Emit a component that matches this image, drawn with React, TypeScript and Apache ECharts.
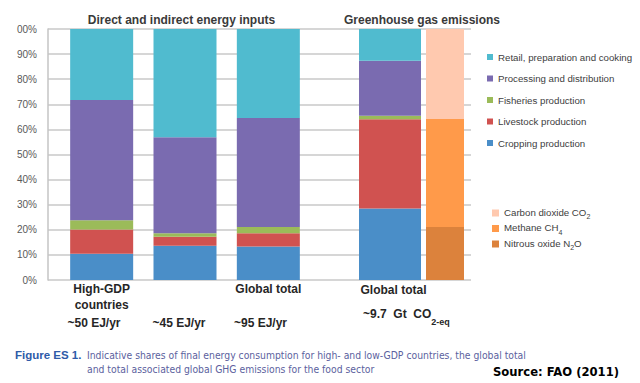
import React, { useEffect, useRef } from "react";
import * as echarts from "echarts";

const energyCategories = ["High-GDP\ncountries", "Low-GDP\ncountries", "Global total"];
const energyTotals = ["~50 EJ/yr", "~45 EJ/yr", "~95 EJ/yr"];
const croppingEnergy = [10.5, 13.6, 13.3];
const livestockEnergy = [9.6, 3.6, 5.3];
const fisheriesEnergy = [3.7, 1.4, 2.5];
const processingEnergy = [47.9, 38.3, 43.4];
const retailEnergy = [28.3, 43.1, 35.5];

const ghgCategories = ["Global total"];
const croppingGhg = [28.5];
const livestockGhg = [35.5];
const fisheriesGhg = [1.4];
const processingGhg = [22.0];
const retailGhg = [12.6];

const gasCategories = [""];
const n2oGhg = [21.1];
const ch4Ghg = [43.0];
const co2Ghg = [35.9];

const sectorNames = [
  "Cropping production",
  "Livestock production",
  "Fisheries production",
  "Processing and distribution",
  "Retail, preparation and cooking",
];
const gasNames = ["Nitrous oxide N2O", "Methane CH4", "Carbon dioxide CO2"];
const gasLegendText: Record<string, string> = {
  "Carbon dioxide CO2": "{n|Carbon dioxide CO}{s|2}",
  "Methane CH4": "{n|Methane CH}{s|4}",
  "Nitrous oxide N2O": "{n|Nitrous oxide N}{s|2}{n|O}",
};
const yTickMax = 100;

const sectorColors = ["#4A8EC8", "#D05250", "#9BBB59", "#7A6BB0", "#50BBCF"];
const gasColors = ["#DC823C", "#FF9A4A", "#FFC9AF"];

export default function App() {
  const ref = useRef<HTMLDivElement>(null);
  useEffect(() => {
    document.body.style.margin = "0";
    const chart = echarts.init(ref.current!, undefined, { renderer: "svg" });
    const energyData = [croppingEnergy, livestockEnergy, fisheriesEnergy, processingEnergy, retailEnergy];
    const ghgData = [croppingGhg, livestockGhg, fisheriesGhg, processingGhg, retailGhg];
    const gasData = [n2oGhg, ch4Ghg, co2Ghg];
    const font = "'Liberation Sans', Arial, sans-serif";
    const captionFont = "'Liberation Sans Narrow', 'DejaVu Sans Condensed', sans-serif";
    const hiddenY = (gridIndex: number) => ({
      type: "value",
      gridIndex,
      min: 0,
      max: yTickMax,
      show: false,
    });
    const series: any[] = [];
    sectorNames.forEach((name, i) => {
      series.push({
        type: "bar",
        name,
        stack: "energy",
        xAxisIndex: 1,
        yAxisIndex: 1,
        barWidth: 63,
        data: energyData[i],
        itemStyle: { color: sectorColors[i] },
      });
    });
    sectorNames.forEach((name, i) => {
      series.push({
        type: "bar",
        name,
        stack: "ghg",
        xAxisIndex: 2,
        yAxisIndex: 2,
        barWidth: 62,
        data: ghgData[i],
        itemStyle: { color: sectorColors[i] },
      });
    });
    gasNames.forEach((name, i) => {
      series.push({
        type: "bar",
        name,
        stack: "gas",
        xAxisIndex: 3,
        yAxisIndex: 3,
        barWidth: 38,
        data: gasData[i],
        itemStyle: { color: gasColors[i] },
      });
    });

    chart.setOption({
      animation: false,
      backgroundColor: "#ffffff",
      textStyle: { fontFamily: font },
      grid: [
        { left: 48, top: 29, width: 423, height: 251 },
        { left: 60, top: 29, width: 250, height: 251 },
        { left: 359, top: 29, width: 62, height: 251 },
        { left: 426, top: 29, width: 38, height: 251 },
      ],
      xAxis: [
        { type: "category", gridIndex: 0, data: [""], show: false },
        {
          type: "category",
          gridIndex: 1,
          data: energyCategories,
          axisLine: { show: false },
          axisTick: { show: false },
          axisLabel: {
            margin: 1,
            fontSize: 12,
            fontWeight: "bold",
            color: "#262626",
            lineHeight: 16,
            fontFamily: font,
          },
        },
        {
          type: "category",
          gridIndex: 2,
          data: ghgCategories,
          axisLine: { show: false },
          axisTick: { show: false },
          axisLabel: {
            margin: 2,
            fontSize: 12,
            fontWeight: "bold",
            color: "#262626",
            lineHeight: 16,
            padding: [0, 0, 0, 7],
            fontFamily: font,
          },
        },
        {
          type: "category",
          gridIndex: 3,
          data: gasCategories,
          show: false,
        },
      ],
      yAxis: [
        {
          type: "value",
          gridIndex: 0,
          min: 0,
          max: yTickMax,
          interval: 10,
          axisLine: { show: true, lineStyle: { color: "#C4C4C4", width: 1.5 } },
          axisTick: { show: false },
          splitLine: { show: true, lineStyle: { color: "#C8C8C8", width: 1.5 } },
          axisLabel: {
            margin: 11,
            fontSize: 10,
            color: "#595959",
            fontFamily: font,
            formatter: (v: number) => (v === 100 ? "00%" : v + "%"),
          },
        },
        hiddenY(1),
        hiddenY(2),
        hiddenY(3),
      ],
      legend: [
        {
          orient: "vertical",
          left: 482,
          top: 46,
          padding: 5,
          itemWidth: 6,
          itemHeight: 6,
          itemGap: 9.5,
          icon: "rect",
          data: sectorNames.slice().reverse(),
          textStyle: { fontSize: 9.7, color: "#404040", lineHeight: 12, fontFamily: font },
        },
        {
          orient: "vertical",
          left: 487,
          top: 202,
          padding: 5,
          itemWidth: 7,
          itemHeight: 7,
          itemGap: 2.5,
          icon: "rect",
          data: gasNames.slice().reverse(),
          formatter: (name: string) => gasLegendText[name],
          textStyle: {
            fontSize: 9.7,
            color: "#404040",
            fontFamily: font,
            rich: {
              n: { fontSize: 9.7, color: "#404040", lineHeight: 12, verticalAlign: "top", fontFamily: font },
              s: {
                fontSize: 7,
                color: "#404040",
                lineHeight: 8,
                padding: [6, 0, 0, 0],
                verticalAlign: "top",
                fontFamily: font,
              },
            },
          },
        },
      ],
      graphic: [
        {
          type: "text",
          x: 181.5,
          y: 20,
          style: {
            text: "Direct and indirect energy inputs",
            fontSize: 12,
            fontWeight: "bold",
            fill: "#3A3A3A",
            align: "center",
            verticalAlign: "middle",
            fontFamily: font,
          },
        },
        {
          type: "text",
          x: 422,
          y: 20,
          style: {
            text: "Greenhouse gas emissions",
            fontSize: 12,
            fontWeight: "bold",
            fill: "#3A3A3A",
            align: "center",
            verticalAlign: "middle",
            fontFamily: font,
          },
        },
        ...energyTotals.map((t, i) => ({
          type: "text",
          x: [94, 179, 260.5][i],
          y: 323,
          style: {
            text: t,
            fontSize: 12,
            fontWeight: "bold",
            fill: "#262626",
            align: "center",
            verticalAlign: "middle",
            fontFamily: font,
          },
        })),
        {
          type: "text",
          x: 363,
          y: 308,
          style: {
            text: "{a|~9.7  Gt  CO}{s|2-eq}",
            fill: "#262626",
            fontFamily: font,
            rich: {
              a: { fontSize: 12, fontWeight: "bold", lineHeight: 14, verticalAlign: "top", fill: "#262626", fontFamily: font },
              s: {
                fontSize: 9,
                fontWeight: "bold",
                lineHeight: 10,
                padding: [9, 0, 0, 0],
                verticalAlign: "top",
                fill: "#262626",
                fontFamily: font,
              },
            },
          },
        },
        {
          type: "text",
          x: 15,
          y: 355,
          style: {
            text: "Figure ES 1.",
            fontSize: 11.5,
            fontWeight: "bold",
            fill: "#2E5BA8",
            verticalAlign: "middle",
            fontFamily: font,
          },
        },
        {
          type: "text",
          x: 87,
          y: 355,
          style: {
            text: "Indicative shares of final energy consumption for high- and low-GDP countries, the global total",
            fontSize: 10.3,
            fill: "#5B5F9E",
            verticalAlign: "middle",
            fontFamily: captionFont,
          },
        },
        {
          type: "text",
          x: 87,
          y: 369,
          style: {
            text: "and total associated global GHG emissions for the food sector",
            fontSize: 10.3,
            fill: "#5B5F9E",
            verticalAlign: "middle",
            fontFamily: captionFont,
          },
        },
        {
          type: "text",
          x: 493,
          y: 372,
          style: {
            text: "Source: FAO (2011)",
            fontSize: 11.6,
            fontWeight: "bold",
            fill: "#000000",
            verticalAlign: "middle",
            fontFamily: "'DejaVu Sans', sans-serif",
          },
        },
      ],
      series,
    });
    return () => chart.dispose();
  }, []);
  return <div ref={ref} style={{ width: 640, height: 383 }} />;
}
